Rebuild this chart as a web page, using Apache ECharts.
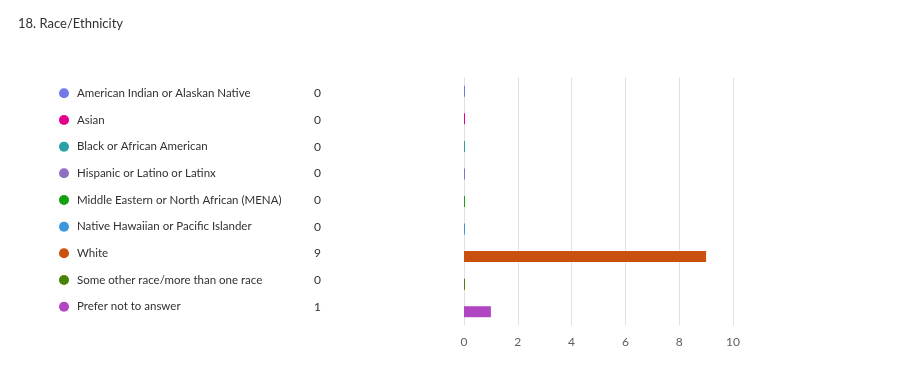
<!DOCTYPE html>
<html><head><meta charset="utf-8">
<script src="https://cdn.jsdelivr.net/npm/echarts@6/dist/echarts.min.js"></script>
<style>html,body{margin:0;padding:0;background:#fff}#c{width:897px;height:372px}</style>
</head><body><div id="c"></div>
<script>
const title = '18. Race/Ethnicity';
const categories = ['American Indian or Alaskan Native','Asian','Black or African American','Hispanic or Latino or Latinx','Middle Eastern or North African (MENA)','Native Hawaiian or Pacific Islander','White','Some other race/more than one race','Prefer not to answer'];
const values = [0,0,0,0,0,0,9,0,1];
const colors = ['#7179E6','#E3008C','#2AA0A4','#8E70C2','#13A10E','#3A96DD','#CA5010','#498205','#B146C2'];
const xTicks = [0,2,4,6,8,10];

const FONT = 'Lato, "Noto Sans", sans-serif';
const rich = {
  n: {fontSize: 11.5, color: '#323130', fontFamily: FONT, width: 237, padding: [0,0,0,8]},
  v: {fontSize: 12, color: '#323130', fontFamily: FONT}
};
colors.forEach((c,i)=>{ rich['c'+i] = {width:10, height:10, borderRadius:5, backgroundColor:c}; });

const chart = echarts.init(document.getElementById('c'));
chart.setOption({
  animation: false,
  title: {text: title, left: 13, top: 12, textStyle: {fontSize: 13, fontWeight: 'normal', color: '#323130', fontFamily: FONT}},
  grid: [
    {left: 464, top: 77.5, width: 269, height: 248, containLabel: false},
    {left: 59, top: 80, width: 1, height: 240, containLabel: false}
  ],
  xAxis: [
    {gridIndex: 0, type: 'value', min: xTicks[0], max: xTicks[xTicks.length-1], interval: 2,
     axisLine: {show: false}, axisTick: {show: false},
     splitLine: {lineStyle: {color: '#E1E1E1', width: 1}},
     axisLabel: {color: '#605E5C', fontSize: 12, fontFamily: FONT, margin: 11}},
    {gridIndex: 1, type: 'value', show: false}
  ],
  yAxis: [
    {gridIndex: 0, type: 'category', data: categories, inverse: true,
     axisLine: {show: false}, axisTick: {show: false}, axisLabel: {show: false}, splitLine: {show: false}},
    {gridIndex: 1, type: 'category', data: categories, inverse: true,
     axisLine: {show: false}, axisTick: {show: false}, splitLine: {show: false},
     axisLabel: {align: 'left', margin: 0, rich: rich,
       formatter: (v, i) => `{c${i}|}{n|${v}}{v|${values[i]}}`}}
  ],
  series: [{
    type: 'bar', xAxisIndex: 0, yAxisIndex: 0,
    data: values.map((v,i)=>({value: v, itemStyle: {color: colors[i]}})),
    barWidth: 11, barMinHeight: 1, silent: true
  }]
});
</script></body></html>
